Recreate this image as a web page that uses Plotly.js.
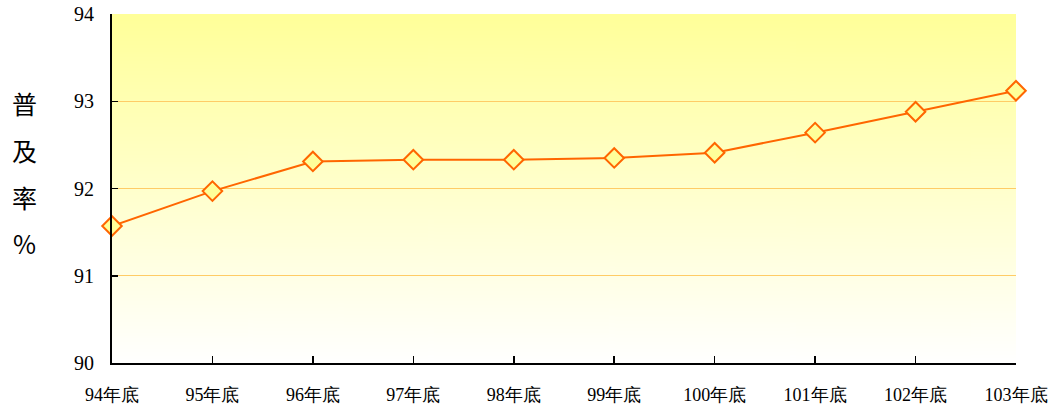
<!DOCTYPE html>
<html><head><meta charset="utf-8">
<script src="https://cdn.plot.ly/plotly-3.0.1.min.js"></script>
<style>html,body{margin:0;padding:0;background:#fff}#chart{width:1055px;height:411px}</style>
</head><body><div id="chart"></div>
<script>
const categories = ['94年底','95年底','96年底','97年底','98年底','99年底','100年底','101年底','102年底','103年底'];
const rates = [91.57, 91.97, 92.31, 92.33, 92.33, 92.35, 92.41, 92.64, 92.88, 93.12];
const yTicks = [90, 91, 92, 93, 94];
const yTitleChars = ['普','及','率','%'];

const cv = document.createElement('canvas');
cv.width = 10; cv.height = 400;
const ctx = cv.getContext('2d');
const g = ctx.createLinearGradient(0, 0, 0, 400);
g.addColorStop(0, '#FFFF99');
g.addColorStop(1, '#FFFFFF');
ctx.fillStyle = g; ctx.fillRect(0, 0, 10, 400);
const bg = cv.toDataURL();

const serif = "'Times New Roman', 'Liberation Serif', 'DejaVu Serif', serif";

const annotations = yTitleChars.map((c, i) => ({
  xref: 'paper', yref: 'paper', x: -0.097, y: 0.745 - i * 0.134,
  xanchor: 'center', yanchor: 'middle', showarrow: false, text: c,
  font: {family: "'Noto Sans CJK TC', serif", size: 25, color: '#000'}
}));

const trace = {
  x: categories, y: rates, type: 'scatter', mode: 'lines+markers',
  line: {color: '#FF6600', width: 2},
  marker: {symbol: 'diamond', size: 15, color: '#FFFF99', line: {color: '#FF6600', width: 2}},
  cliponaxis: false, hoverinfo: 'skip'
};

const layout = {
  width: 1055, height: 411,
  font: {family: serif},
  margin: {l: 112, r: 39, t: 14, b: 48},
  paper_bgcolor: '#fff', plot_bgcolor: 'rgba(0,0,0,0)',
  showlegend: false,
  images: [{source: bg, xref: 'paper', yref: 'paper', x: 0, y: 1, sizex: 1, sizey: 1,
    sizing: 'stretch', xanchor: 'left', yanchor: 'top', layer: 'below'}],
  xaxis: {
    type: 'category', range: [0, categories.length - 1],
    showgrid: false, zeroline: false, showline: true, linecolor: '#000', linewidth: 2,
    ticks: 'inside', ticklen: 7, tickwidth: 1.5, tickcolor: '#000',
    ticklabelstandoff: 14,
    tickfont: {family: serif, size: 18, color: '#000'}
  },
  yaxis: {
    range: [90, 94], tickvals: yTicks, ticktext: yTicks.map(String),
    showgrid: true, gridcolor: '#FFCC66', gridwidth: 1,
    zeroline: false, showline: true, linecolor: '#000', linewidth: 2,
    ticks: 'inside', ticklen: 6, tickwidth: 1.5, tickcolor: '#000',
    ticklabelstandoff: 12,
    tickfont: {family: serif, size: 20, color: '#000'}
  },
  annotations: annotations
};

Plotly.newPlot('chart', [trace], layout, {displayModeBar: false, staticPlot: true});
</script></body></html>
